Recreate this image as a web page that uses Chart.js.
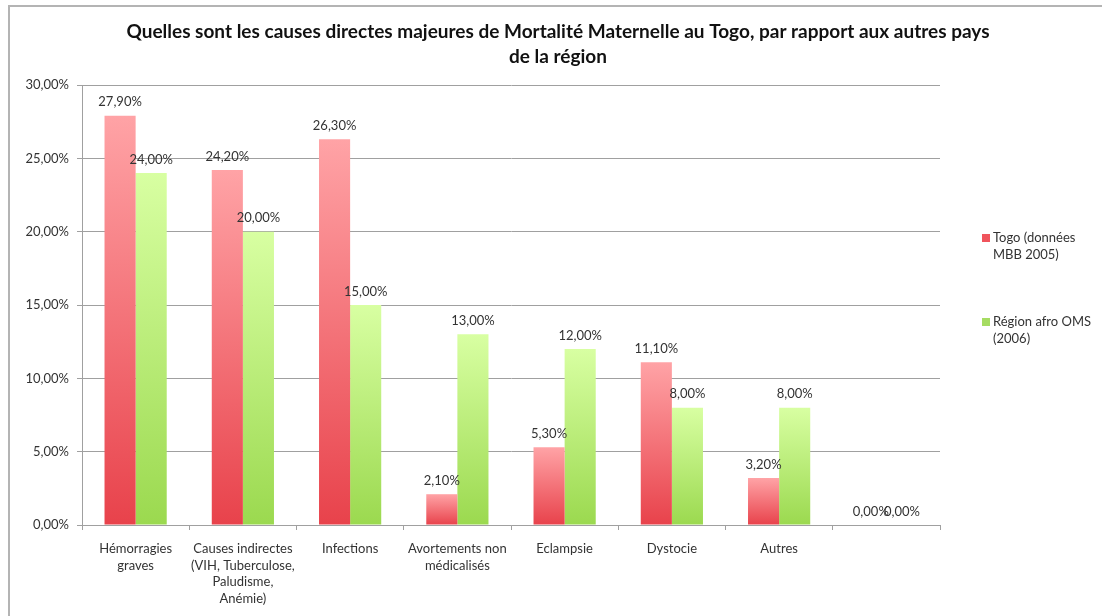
<!DOCTYPE html>
<html>
<head>
<meta charset="utf-8">
<script src="https://cdn.jsdelivr.net/npm/chart.js@4/dist/chart.umd.min.js"></script>
<style>
  html, body { margin: 0; padding: 0; background: #fff; }
  #wrap { position: relative; width: 1102px; height: 616px; }
  #frame { position: absolute; left: 8px; top: 5px; right: -4px; bottom: -4px;
           border-top: 2px solid #b4b4b4; border-left: 2px solid #b4b4b4; pointer-events: none; }
</style>
</head>
<body>
<div id="wrap">
  <canvas id="chart" width="1102" height="616"></canvas>
  <div id="frame"></div>
</div>
<script>
// data
const categories = [
    ["Hémorragies", "graves"],
    ["Causes indirectes", "(VIH, Tuberculose,", "Paludisme,", "Anémie)"],
    "Infections",
    ["Avortements non", "médicalisés"],
    "Eclampsie",
    "Dystocie",
    "Autres",
    ""
];
const togoValues = [27.9, 24.2, 26.3, 2.1, 5.3, 11.1, 3.2, 0];
const afroValues = [24.0, 20.0, 15.0, 13.0, 12.0, 8.0, 8.0, 0];
const seriesNames = [["Togo (données", "MBB 2005)"], ["Région afro OMS", "(2006)"]];
const yTicks = [0, 5, 10, 15, 20, 25, 30];
const titleLines = [
    "Quelles sont les causes directes majeures de Mortalité Maternelle au Togo, par rapport aux autres pays",
    "de la région"
];

const FONT = "Lato, 'Open Sans', sans-serif";
const fmt = v => v.toFixed(2).replace(".", ",") + "%";

// vertical gradient per bar, light on top, saturated at the base
function barGradient(top, bottom) {
    return function (ctx) {
        const chart = ctx.chart;
        if (!chart.chartArea || ctx.type !== "data") return bottom;
        const y = chart.scales.y;
        const yTop = y.getPixelForValue(ctx.raw);
        const yBase = y.getPixelForValue(0);
        if (yBase - yTop < 1) return bottom;
        const g = chart.ctx.createLinearGradient(0, yTop, 0, yBase);
        g.addColorStop(0, top);
        g.addColorStop(1, bottom);
        return g;
    };
}

const valueLabels = {
    id: "valueLabels",
    afterDatasetsDraw(chart) {
        const c = chart.ctx;
        c.save();
        c.font = "13px " + FONT;
        c.fillStyle = "#333";
        c.textAlign = "center";
        c.textBaseline = "bottom";
        chart.data.datasets.forEach((ds, i) => {
            chart.getDatasetMeta(i).data.forEach((bar, j) => {
                c.fillText(fmt(ds.data[j]), bar.x, bar.y - 7);
            });
        });
        c.restore();
    }
};

// title centred on the whole picture, legend on the right
const decorations = {
    id: "decorations",
    afterDraw(chart) {
        const c = chart.ctx;
        c.save();
        c.font = "bold 19px " + FONT;
        c.fillStyle = "#111";
        c.textAlign = "center";
        c.textBaseline = "middle";
        titleLines.forEach((t, k) => c.fillText(t, 558, 32 + k * 25));

        const swatch = ["#f0545c", "#a6dc62"];
        const tops = [238, 322];
        c.font = "13px " + FONT;
        c.textAlign = "left";
        seriesNames.forEach((lines, i) => {
            c.fillStyle = swatch[i];
            c.fillRect(982, tops[i] - 4, 8, 8);
            c.fillStyle = "#333";
            lines.forEach((t, k) => c.fillText(t, 993, tops[i] + k * 17));
        });
        c.restore();
    }
};

new Chart(document.getElementById("chart"), {
    type: "bar",
    data: {
        labels: categories,
        datasets: [
            {
                label: "Togo (données MBB 2005)",
                data: togoValues,
                backgroundColor: barGradient("#ffa3a6", "#e8424b"),
                categoryPercentage: 0.58,
                barPercentage: 1.0
            },
            {
                label: "Région afro OMS (2006)",
                data: afroValues,
                backgroundColor: barGradient("#d8ffa2", "#9bd94f"),
                categoryPercentage: 0.58,
                barPercentage: 1.0
            }
        ]
    },
    options: {
        responsive: false,
        animation: false,
        layout: { padding: { left: 0, right: 162, top: 85, bottom: 0 } },
        plugins: {
            legend: { display: false },
            tooltip: { enabled: false },
            title: { display: false }
        },
        scales: {
            x: {
                grid: { display: true, offset: true, drawOnChartArea: false, color: "#a0a0a0", tickLength: 5 },
                border: { color: "#a0a0a0", width: 1 },
                ticks: { color: "#333", font: { family: FONT, size: 13, lineHeight: 1.3 }, maxRotation: 0, padding: 10 },
                afterFit(scale) { scale.height = 91; }
            },
            y: {
                min: 0,
                max: 30,
                afterBuildTicks(scale) { scale.ticks = yTicks.map(v => ({ value: v })); },
                grid: { color: "#a0a0a0", tickLength: 5 },
                border: { color: "#a0a0a0", width: 1 },
                ticks: { color: "#333", font: { family: FONT, size: 13 }, padding: 8,
                         callback: v => fmt(v) },
                afterFit(scale) { scale.width = 82; }
            }
        }
    },
    plugins: [valueLabels, decorations]
});
</script>
</body>
</html>
